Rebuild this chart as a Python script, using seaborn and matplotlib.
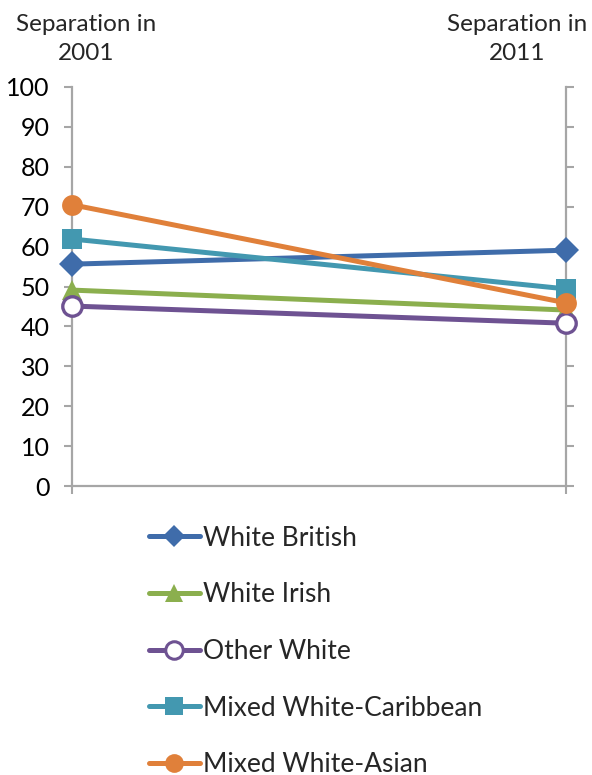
import matplotlib
matplotlib.use("Agg")
import matplotlib.pyplot as plt
from matplotlib.lines import Line2D
import seaborn as sns
import pandas as pd

# Separation index by ethnic group, 2001 vs 2011
years = ["2001", "2011"]
groups = ["White British", "White Irish", "Other White",
          "Mixed White-Caribbean", "Mixed White-Asian"]
white_british = [55.6, 59.1]
white_irish = [49.1, 44.1]
other_white = [45.1, 40.8]
mixed_white_caribbean = [61.9, 49.4]
mixed_white_asian = [70.5, 45.9]

series = [white_british, white_irish, other_white,
          mixed_white_caribbean, mixed_white_asian]
colors = ["#3F6CAA", "#8BAF4E", "#6E5292", "#4398B0", "#E0803A"]
markers = ["D", "^", "o", "s", "o"]
msizes = [13, 14, 14, 14, 15]
hollow = [False, False, True, False, False]

rows = []
for g, vals in zip(groups, series):
    for i, (y, v) in enumerate(zip(years, vals)):
        rows.append({"group": g, "pos": i, "year": y, "value": v})
df = pd.DataFrame(rows)

sns.set_theme(style="white")
plt.rcParams["font.family"] = ["Lato", "DejaVu Sans"]

fig = plt.figure(figsize=(5.92, 7.75), dpi=100)
ax = fig.add_axes([72 / 592, 289 / 775, (566 - 72) / 592, (486 - 87) / 775])

for g, c, m, ms, h in zip(groups, colors, markers, msizes, hollow):
    sub = df[df["group"] == g]
    sns.lineplot(data=sub, x="pos", y="value", ax=ax, color=c, linewidth=3.6,
                 marker=m, markersize=ms,
                 markerfacecolor="white" if h else c,
                 markeredgecolor=c, markeredgewidth=2.4 if h else 0,
                 legend=False, clip_on=False, zorder=3)

ax.set_xlim(0, 1)
ax.set_ylim(0, 100)
ax.set_yticks(range(0, 101, 10))
ax.set_xticks([0, 1])
ax.set_xticklabels([])
ax.set_xlabel("")
ax.set_ylabel("")
ax.tick_params(axis="y", labelsize=18, colors="#A6A6A6", labelcolor="black",
               length=6, width=1.5, direction="out", left=True, right=True, pad=10)
ax.tick_params(axis="x", length=6, width=1.5, colors="#A6A6A6",
               direction="out", bottom=True)
for side in ["left", "right", "bottom"]:
    ax.spines[side].set_visible(True)
    ax.spines[side].set_color("#A6A6A6")
    ax.spines[side].set_linewidth(1.6)
ax.spines["top"].set_visible(False)
ax.grid(False)

# category labels above each axis
for i, y in enumerate(years):
    fig.text([86 / 592, 517 / 592][i], 1 - 39 / 775, f"Separation in\n{y}",
             ha="center", va="center", fontsize=17.5, linespacing=1.45)

handles = []
for g, c, m, ms, h in zip(groups, colors, markers, msizes, hollow):
    handles.append(Line2D([], [], color=c, linewidth=3.6, marker=m,
                          markersize=ms * 0.9,
                          markerfacecolor="white" if h else c,
                          markeredgecolor=c, markeredgewidth=2.2 if h else 0))
fig.legend(handles, groups, loc="upper left",
           bbox_to_anchor=(138 / 592, 1 - 515 / 775), frameon=False,
           fontsize=19, handlelength=1.95, handletextpad=0.12,
           labelspacing=1.2, borderaxespad=0)

fig.savefig("out.png", dpi=100)
